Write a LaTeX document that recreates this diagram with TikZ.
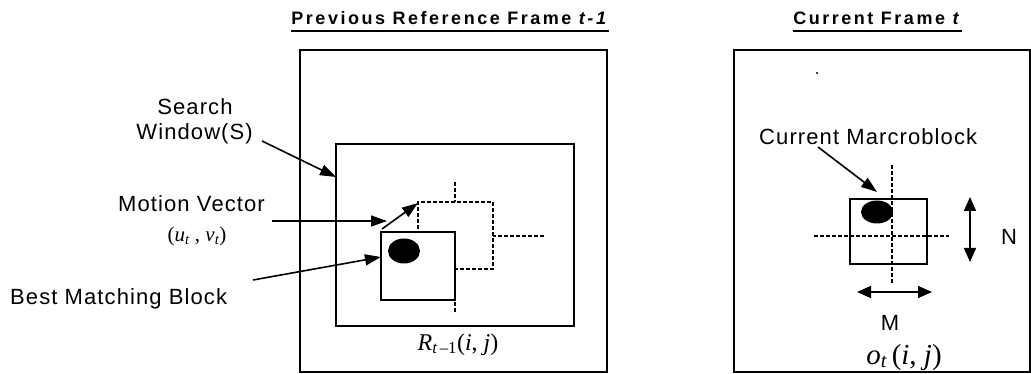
\documentclass[tikz,border=0pt]{standalone}
\usepackage{fontspec}
\setmainfont{Liberation Sans}
\newfontfamily\titlefont[LetterSpace=14]{Liberation Sans}
\newfontfamily\lblfont[LetterSpace=5]{Liberation Sans}
\newfontfamily\mserif{Liberation Serif}
\usetikzlibrary{arrows.meta}
\tikzset{
  frame/.style={draw, line width=2pt, inner sep=0pt, outer sep=0pt},
  blk/.style={draw, line width=1.8pt, fill=white, inner sep=0pt, outer sep=0pt},
  dblk/.style={draw, line width=1.4pt, dash pattern=on 4pt off 2pt, fill=white, inner sep=0pt, outer sep=0pt},
  cross/.style={line width=1.3pt, dash pattern=on 4pt off 2pt},
  lbl/.style={font=\lblfont\fontsize{22}{26}\selectfont, inner sep=0pt},
  ttl/.style={font=\titlefont\bfseries\fontsize{18}{22}\selectfont, inner sep=0pt},
  mth/.style={font=\mserif\itshape\fontsize{24}{28}\selectfont, inner sep=0pt},
  arr/.style={line width=1.6pt, -{Triangle[length=16pt,width=11pt]}},
  darr/.style={line width=1.6pt, {Triangle[length=14pt,width=12pt]}-{Triangle[length=14pt,width=12pt]}},
  blob/.style={fill=black}
}
\begin{document}
\begin{tikzpicture}[x=1pt,y=-1pt]
\useasboundingbox (0,0) rectangle (1031,374);
% titles
\node[ttl, anchor=base] (t1) at (450,25) {Previous Reference Frame \textit{t-1}};
\draw[line width=1.4pt] ([yshift=-6pt]t1.base west) -- ([yshift=-6pt]t1.base east);
\node[ttl, anchor=base] (t2) at (877.5,25) {Current Frame \textit{t}};
\draw[line width=1.4pt] ([yshift=-6pt]t2.base west) -- ([yshift=-6pt]t2.base east);
% frames
\node[frame, minimum width=307pt, minimum height=322pt] (lf) at (453.5,211) {};
\node[frame, minimum width=295.5pt, minimum height=322pt] (rf) at (881.75,211) {};
% search window
\node[draw, line width=1.8pt, inner sep=0pt, minimum width=238pt, minimum height=182pt] (sw) at (455,235) {};
% crosshair of displaced block
\coordinate (c1t) at (455,182); \coordinate (c1b) at (455,313);
\coordinate (c1l) at (390,236); \coordinate (c1r) at (545,236);
\draw[cross] (c1t) -- (c1b);
\draw[cross] (c1l) -- (c1r);
\node[dblk, minimum width=75pt, minimum height=67pt] (db) at (455.5,235.5) {};
\node[blk, minimum width=74pt, minimum height=68pt] (bb) at (418,266) {};
\fill[blob] (404,251) ellipse [x radius=16pt, y radius=12.5pt];
\node[mth, anchor=base] (rl) at (458,350) {R\textsubscript{t\upshape{\,–}1}\upshape(\itshape i\upshape, \itshape j\upshape)};
% left labels
\node[lbl, anchor=base] (ls) at (195,115) {Search};
\node[lbl, anchor=base east] (lw) at (253,140) {Window(S)};
\node[lbl, anchor=base west] (lm) at (118,212) {Motion Vector};
\node[font=\mserif\itshape\fontsize{21}{24}\selectfont, inner sep=0pt] (luv) at (197,236) {\upshape(\itshape u\textsubscript{t}\upshape\ , \itshape v\textsubscript{t}\upshape)};
\node[lbl, anchor=base west] (lb) at (10,305) {Best Matching Block};
\coordinate (a1s) at (262,141); \coordinate (a1e) at (336,177);
\coordinate (a2s) at (272,221); \coordinate (a2e) at (387,221);
\coordinate (a3s) at (382,229); \coordinate (a3e) at (418,203);
\coordinate (a4s) at (253,280); \coordinate (a4e) at (381,257);
\draw[arr] (a1s) -- (a1e);
\draw[arr] (a2s) -- (a2e);
\draw[arr] (a3s) -- (a3e);
\draw[arr] (a4s) -- (a4e);
% right frame content
\fill (817,73) circle [radius=1.2pt];
\node[draw, line width=1.8pt, inner sep=0pt, minimum width=77pt, minimum height=65pt] (cb) at (888.5,231.5) {};
\coordinate (c2t) at (892,165); \coordinate (c2b) at (892,283);
\coordinate (c2l) at (814,236); \coordinate (c2r) at (949,236);
\draw[cross] (c2t) -- (c2b);
\draw[cross] (c2l) -- (c2r);
\fill[blob] (877,212) ellipse [x radius=16pt, y radius=11.5pt];
\node[lbl, anchor=base west] (lc) at (759,145) {Current Marcroblock};
\coordinate (a5s) at (818,147); \coordinate (a5e) at (877,192);
\draw[arr] (a5s) -- (a5e);
\coordinate (nv1) at (970,197); \coordinate (nv2) at (970,262);
\draw[darr] (nv1) -- (nv2);
\node[lbl, anchor=base] (ln) at (1009,244) {N};
\coordinate (mh1) at (857,292); \coordinate (mh2) at (932,292);
\draw[darr] (mh1) -- (mh2);
\node[lbl, anchor=base] (lmm) at (890,330) {M};
\node[font=\mserif\itshape\fontsize{29}{32}\selectfont, inner sep=0pt, anchor=base] (lo) at (904,364) {o\textsubscript{t}\,\upshape(\itshape i\upshape, \itshape j\upshape)};
\end{tikzpicture}
\end{document}
